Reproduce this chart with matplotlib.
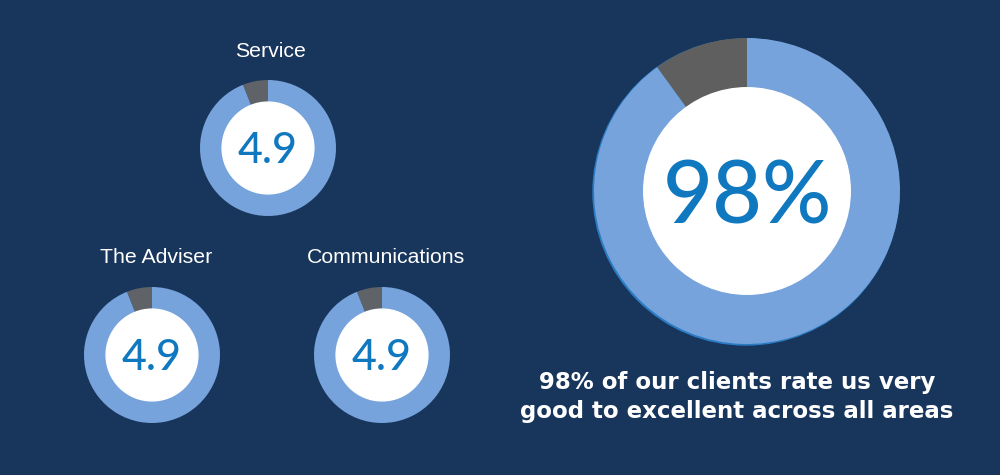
import matplotlib.pyplot as plt
from matplotlib.patches import Circle

# data
labels = ['Service', 'The Adviser', 'Communications']
scores = ['4.9', '4.9', '4.9']
rated = [94, 94, 94]      # blue share of each small ring
rest = [6, 6, 6]          # grey share of each small ring
big_label = '98%'
big_rated = 90
big_rest = 10
caption = ['98% of our clients rate us very', 'good to excellent across all areas']

# colours
bg = '#18355b'
ring_blue = '#76a3dc'
ring_grey = '#5f6367'
big_grey = '#5f5f5f'
num_blue = '#1078bf'

# positions in pixels (x, y from top)
small_pos = [(268, 148), (152, 355), (382, 355)]
label_pos = [(271, 57), (156, 263), (386, 263)]
small_r = 68
big_pos = (747, 191)
big_r = 153
H = 475

fig = plt.figure(figsize=(10, 4.75), dpi=100, facecolor=bg)
ax = fig.add_axes([0, 0, 1, 1])
ax.set_facecolor(bg)


def donut(cx, cy, r, vals, cols, txt, fs, half_h):
  y = H - cy
  ax.pie(vals, colors=cols, startangle=90, counterclock=True,
         center=(cx, y), radius=r,
         wedgeprops=dict(width=r * 0.33, linewidth=0))
  ax.add_patch(Circle((cx, y), r * 0.675, color='white', zorder=3))
  # baseline put so the digits sit on the ring centre
  ax.text(cx, y - half_h, txt, ha='center', va='baseline', fontsize=fs,
          family='Lato', weight='medium', color=num_blue, zorder=4)


for (cx, cy), (lx, ly), sc, a, b in zip(small_pos, label_pos, scores, rated, rest):
  donut(cx, cy, small_r, [b, a], [ring_grey, ring_blue], sc, 31, 15)

for (lx, ly), lab in zip(label_pos, labels):
  ax.text(lx, H - ly, lab, ha='center', va='baseline',
          fontsize=15.3, family='Liberation Sans', color='white')

# thin blue rim on the big ring
ax.add_patch(Circle((big_pos[0] - 1, H - big_pos[1] - 1), big_r, color='#2a7cc4', zorder=0))
donut(big_pos[0], big_pos[1], big_r, [big_rest, big_rated],
      [big_grey, ring_blue], big_label, 62, 33)

ax.text(737, H - 389, caption[0], ha='center', va='baseline', fontsize=16.5,
        family='DejaVu Sans', weight='bold', color='white')
ax.text(737, H - 418, caption[1], ha='center', va='baseline', fontsize=16.5,
        family='DejaVu Sans', weight='bold', color='white')

ax.set_xlim(0, 1000)
ax.set_ylim(0, H)
ax.set_aspect('equal')
ax.axis('off')

fig.savefig('out.png', dpi=100, facecolor=bg)
